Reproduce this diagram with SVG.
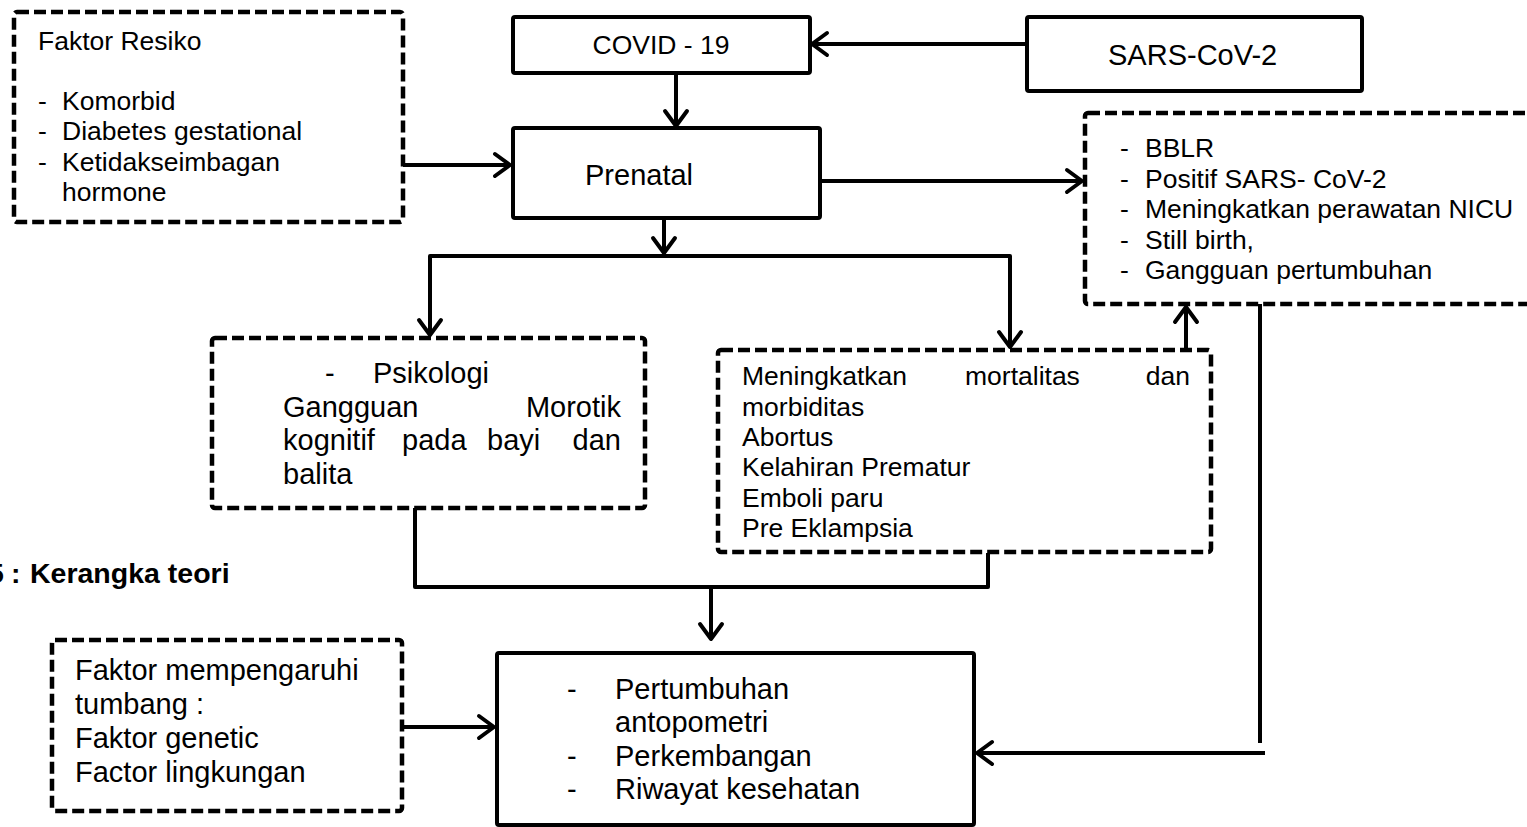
<svg xmlns="http://www.w3.org/2000/svg" width="1527" height="827" viewBox="0 0 1527 827">
<style>
.solid{fill:#fff;stroke:#000;stroke-width:4;stroke-linejoin:round}
.dash{fill:#fff;stroke:#000;stroke-width:4.5;stroke-dasharray:12 5;stroke-linejoin:round}
.t{font-family:"Liberation Sans",Arial,sans-serif;font-size:26.5px;fill:#000}
.b{font-family:"Liberation Sans",Arial,sans-serif;font-size:29px;fill:#000}
.c{font-family:"Liberation Sans",Arial,sans-serif;font-size:28.5px;font-weight:bold;fill:#000}
.ln{fill:none;stroke:#000;stroke-width:4}
.ar{marker-end:url(#arr)}
</style>
<defs>
<marker id="arr" markerUnits="userSpaceOnUse" viewBox="-18 -14 22 28" markerWidth="22" markerHeight="28" refX="0" refY="0" orient="auto">
<path d="M-15,-11 L0,0 L-15,11" fill="none" stroke="#000" stroke-width="4" stroke-linecap="round" stroke-linejoin="round"/>
</marker>
</defs>
<rect width="1527" height="827" fill="#fff"/>

<g id="connectors">
<line class="ln ar" x1="1027" y1="44" x2="812" y2="44"/>
<line class="ln ar" x1="676" y1="73" x2="676" y2="126"/>
<line class="ln ar" x1="403" y1="165" x2="510" y2="165"/>
<line class="ln ar" x1="820" y1="181" x2="1082" y2="181"/>
<line class="ln ar" x1="664" y1="218" x2="664" y2="253"/>
<polyline class="ln" points="430,334 430,256 1010,256 1010,346" stroke-linejoin="round"/>
<line class="ln ar" x1="430" y1="300" x2="430" y2="335"/>
<line class="ln ar" x1="1010" y1="310" x2="1010" y2="347"/>
<line class="ln ar" x1="1186" y1="350" x2="1186" y2="307"/>
<line class="ln" x1="1260" y1="304" x2="1260" y2="743"/>
<line class="ln ar" x1="1265" y1="753" x2="977" y2="753"/>
<polyline class="ln" points="415,508 415,587 988,587 988,553" stroke-linejoin="round"/>
<line class="ln ar" x1="711" y1="587" x2="711" y2="639"/>
<line class="ln ar" x1="402" y1="727" x2="494" y2="727"/>
</g>

<g id="faktor-resiko">
<rect class="dash" x="14" y="12" width="389" height="210" rx="3"/>
<text class="t" x="38" y="50">Faktor Resiko</text>
<text class="t" x="38" y="110">-</text><text class="t" x="62" y="110">Komorbid</text>
<text class="t" x="38" y="140">-</text><text class="t" x="62" y="140">Diabetes gestational</text>
<text class="t" x="38" y="171">-</text><text class="t" x="62" y="171">Ketidakseimbagan</text>
<text class="t" x="62" y="201">hormone</text>
</g>

<g id="covid">
<rect class="solid" x="513" y="17" width="297" height="56" rx="2"/>
<text class="t" x="661" y="54" text-anchor="middle">COVID - 19</text>
</g>

<g id="sars">
<rect class="solid" x="1027" y="17" width="335" height="74" rx="2"/>
<text class="b" x="1108" y="65">SARS-CoV-2</text>
</g>

<g id="prenatal">
<rect class="solid" x="513" y="128" width="307" height="90" rx="2"/>
<text class="b" x="585" y="185">Prenatal</text>
</g>

<g id="bayi">
<rect class="dash" x="1085" y="113" width="470" height="191" rx="3"/>
<text class="t" x="1120" y="157">-</text><text class="t" x="1145" y="157">BBLR</text>
<text class="t" x="1120" y="187.5">-</text><text class="t" x="1145" y="187.5">Positif SARS- CoV-2</text>
<text class="t" x="1120" y="218">-</text><text class="t" x="1145" y="218">Meningkatkan perawatan NICU</text>
<text class="t" x="1120" y="248.5">-</text><text class="t" x="1145" y="248.5">Still birth,</text>
<text class="t" x="1120" y="279">-</text><text class="t" x="1145" y="279">Gangguan pertumbuhan</text>
</g>

<g id="psikologi">
<rect class="dash" x="212" y="338" width="433" height="170" rx="3"/>
<text class="b" x="325" y="383">-</text><text class="b" x="373" y="383">Psikologi</text>
<text class="b" x="283" y="417">Gangguan</text><text class="b" x="621" y="417" text-anchor="end">Morotik</text>
<text class="b" x="283" y="450">kognitif</text><text class="b" x="402" y="450">pada</text><text class="b" x="487" y="450">bayi</text><text class="b" x="621" y="450" text-anchor="end">dan</text>
<text class="b" x="283" y="484">balita</text>
</g>

<g id="mortalitas">
<rect class="dash" x="718" y="350" width="493" height="202" rx="3"/>
<text class="t" x="742" y="385">Meningkatkan</text><text class="t" x="965" y="385">mortalitas</text><text class="t" x="1190" y="385" text-anchor="end">dan</text>
<text class="t" x="742" y="415.5">morbiditas</text>
<text class="t" x="742" y="446">Abortus</text>
<text class="t" x="742" y="476">Kelahiran Prematur</text>
<text class="t" x="742" y="507">Emboli paru</text>
<text class="t" x="742" y="537">Pre Eklampsia</text>
</g>

<g id="caption">
<text class="c" y="583"><tspan x="-12">5</tspan><tspan x="11">:</tspan><tspan x="30">Kerangka teori</tspan></text>
</g>

<g id="faktor-tumbang">
<rect class="dash" x="52" y="640" width="350" height="171" rx="3"/>
<text class="b" x="75" y="680">Faktor mempengaruhi</text>
<text class="b" x="75" y="714">tumbang :</text>
<text class="b" x="75" y="748">Faktor genetic</text>
<text class="b" x="75" y="782">Factor lingkungan</text>
</g>

<g id="pertumbuhan">
<rect class="solid" x="497" y="653" width="477" height="172" rx="2"/>
<text class="b" x="567" y="699">-</text><text class="b" x="615" y="699">Pertumbuhan</text>
<text class="b" x="615" y="732">antopometri</text>
<text class="b" x="567" y="766">-</text><text class="b" x="615" y="766">Perkembangan</text>
<text class="b" x="567" y="799">-</text><text class="b" x="615" y="799">Riwayat kesehatan</text>
</g>
</svg>
